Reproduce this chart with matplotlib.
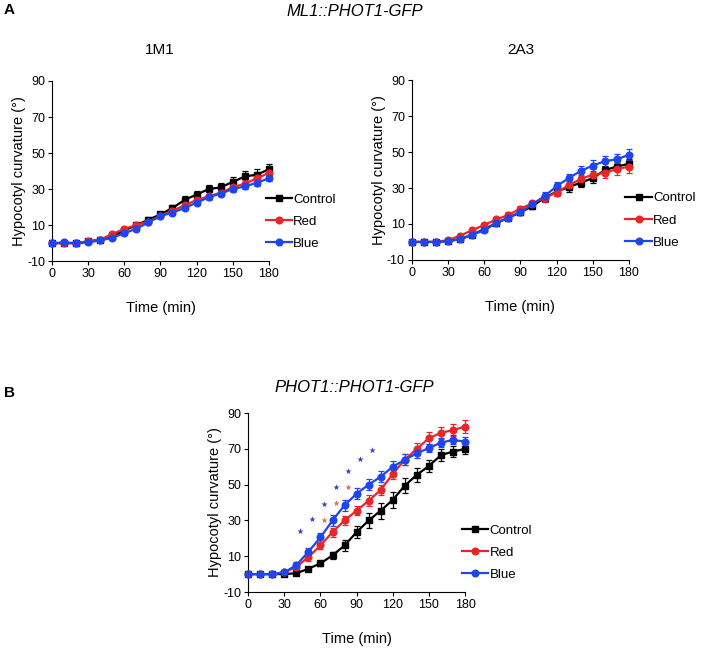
import matplotlib
matplotlib.use('Agg')
import matplotlib.pyplot as plt
import numpy as np

plt.rcParams['font.family'] = ['Liberation Sans', 'DejaVu Sans']
plt.rcParams['axes.unicode_minus'] = False

time = np.arange(0, 181, 10)

# panel A, 1M1
m1_ctrl = [0, 0, 0, 1, 2, 4, 7, 10, 13, 16, 19.5, 24, 27, 30, 31, 34, 37, 38, 41]
m1_ctrl_err = [0.5, 0.5, 0.5, 0.6, 0.8, 1, 1, 1.2, 1.5, 1.5, 1.5, 2, 2, 2.5, 2.5, 2.5, 3, 3, 3]
m1_red = [0, 0, 0, 1, 2, 5, 8, 10, 12, 15, 18, 21, 24, 26, 28, 31, 33, 36, 39]
m1_red_err = [0.3, 0.3, 0.3, 0.5, 0.6, 0.8, 1, 1, 1.2, 1.2, 1.5, 1.5, 1.5, 1.5, 1.8, 1.8, 2, 2, 2]
m1_blue = [0, 0.5, 0, 0.5, 1.5, 3, 5.5, 8, 11.5, 15, 17, 19.5, 22.5, 25.5, 27.5, 30, 31.5, 33.5, 36]
m1_blue_err = [0.3, 0.3, 0.3, 0.4, 0.5, 0.7, 0.8, 1, 1, 1.2, 1.2, 1.3, 1.3, 1.5, 1.5, 1.5, 1.5, 1.5, 1.5]

# panel A, 2A3
a3_ctrl = [0, 0, 0, 0.5, 1.5, 4, 7, 10.5, 13.5, 16.5, 20, 24.5, 28, 30.5, 33, 35.5, 40, 42, 43.5]
a3_ctrl_err = [0.3, 0.3, 0.3, 0.5, 0.8, 1, 1, 1.2, 1.5, 1.5, 1.5, 2, 2, 2.5, 2.5, 2.5, 2.5, 2.5, 2.5]
a3_red = [0, 0, 0, 1, 3.5, 6.5, 9.5, 12.5, 15, 18.5, 21.5, 24.5, 27.5, 31.5, 35, 37.5, 38.5, 40.5, 42]
a3_red_err = [0.3, 0.3, 0.3, 0.5, 1, 1, 1.2, 1.2, 1.5, 1.5, 1.5, 2, 2, 2.5, 2.5, 3, 3, 3.5, 3.5]
a3_blue = [0, 0, 0, 0.5, 1.5, 4, 6.5, 10.5, 13.5, 16.5, 21, 25.5, 31, 35.5, 39.5, 42.5, 45, 46, 48.5]
a3_blue_err = [0.3, 0.3, 0.3, 0.5, 0.8, 1, 1.2, 1.5, 1.5, 1.5, 2, 2.5, 2.5, 2.5, 3, 3, 3, 3, 3]

# panel B, PHOT1::PHOT1-GFP
p_ctrl = [0, 0, 0, 0, 0.5, 3, 6, 10.5, 16, 23.5, 30, 35.5, 41.5, 49.5, 55.5, 60.5, 66.5, 68.5, 70]
p_ctrl_err = [0.5, 0.5, 0.5, 0.5, 0.8, 1, 1.5, 2, 3, 3.5, 4, 4.5, 4.5, 4, 4, 3.5, 3.5, 3, 3]
p_red = [0, 0, 0, 1, 4, 9.5, 16, 23.5, 30, 35.5, 41, 47, 56, 64, 70, 76, 79, 80.5, 82.5]
p_red_err = [0.5, 0.5, 0.5, 1, 1.5, 2, 2, 2.5, 2.5, 2.5, 3, 3, 3, 3, 3.5, 3.5, 3.5, 3.5, 3.5]
p_blue = [0, 0, 0, 1, 5, 12.5, 20.5, 30, 38.5, 45, 50, 54.5, 60, 64, 67.5, 70.5, 73.5, 75, 74]
p_blue_err = [0.5, 0.5, 0.5, 1, 1.5, 2, 2.5, 3, 3, 3, 3, 3, 3, 3, 2.5, 2.5, 2.5, 2.5, 2.5]

star_blue_x = [43, 53, 63, 73, 83, 93, 103]
star_blue_y = [24, 31, 39, 48.5, 57.5, 64.5, 69.5]
star_red_x = [63, 73, 83]
star_red_y = [30, 39.5, 48.5]

BLACK = '#000000'
RED = '#e8262a'
BLUE = '#1f45ee'
FS = 9


def panel(ax, ctrl, ctrl_e, red, red_e, blue, blue_e):
    series = [(ctrl, ctrl_e, BLACK, 's', 'Control'),
              (red, red_e, RED, 'o', 'Red'),
              (blue, blue_e, BLUE, 'o', 'Blue')]
    lines = []
    for y, e, c, m, lab in series:
        cont = ax.errorbar(time, y, yerr=e, color=c, marker=m, markersize=4.8,
                           linewidth=1.6, elinewidth=0.9, capsize=2.5, capthick=0.9,
                           label=lab, clip_on=False, zorder=3)
        lines.append(cont[0])
    ax.set_xlim(0, 180)
    ax.set_ylim(-10, 90)
    ax.set_xticks(range(0, 181, 30))
    ax.set_yticks(range(-10, 91, 20))
    for s in ['top', 'right']:
        ax.spines[s].set_visible(False)
    ax.tick_params(labelsize=FS, length=3, width=0.8, direction='out', pad=2)
    ax.set_xlabel('Time (min)', fontsize=10.5, labelpad=15)
    ax.set_ylabel('Hypocotyl curvature (°)', fontsize=10.5, labelpad=1)
    ax.legend(lines, ['Control', 'Red', 'Blue'], loc='center left',
              bbox_to_anchor=(0.96, 0.22), frameon=False, fontsize=FS + 0.5,
              handlelength=2.0, handletextpad=0.1, labelspacing=0.75,
              borderaxespad=0)


fig = plt.figure(figsize=(7.09, 6.53), dpi=100)

ax1 = fig.add_axes([0.0733, 0.600, 0.306, 0.276])
panel(ax1, m1_ctrl, m1_ctrl_err, m1_red, m1_red_err, m1_blue, m1_blue_err)

ax2 = fig.add_axes([0.581, 0.602, 0.306, 0.275])
panel(ax2, a3_ctrl, a3_ctrl_err, a3_red, a3_red_err, a3_blue, a3_blue_err)

ax3 = fig.add_axes([0.350, 0.0934, 0.306, 0.274])
panel(ax3, p_ctrl, p_ctrl_err, p_red, p_red_err, p_blue, p_blue_err)
ax3.scatter(star_blue_x, star_blue_y, marker='*', s=22, color='#3b3bc4', linewidths=0, zorder=4)
ax3.scatter(star_red_x, star_red_y, marker='*', s=22, color='#e06a5a', linewidths=0, zorder=4)

fig.text(0.005, 0.985, 'A', fontsize=11, fontweight='bold', va='center')
fig.text(0.5, 0.982, 'ML1::PHOT1-GFP', fontsize=12, style='italic', ha='center', va='center')
fig.text(0.226, 0.923, '1M1', fontsize=11, ha='center', va='center')
fig.text(0.734, 0.923, '2A3', fontsize=11, ha='center', va='center')
fig.text(0.005, 0.398, 'B', fontsize=11, fontweight='bold', va='center')
fig.text(0.5, 0.406, 'PHOT1::PHOT1-GFP', fontsize=12, style='italic', ha='center', va='center')

fig.savefig('out.png', dpi=100)
